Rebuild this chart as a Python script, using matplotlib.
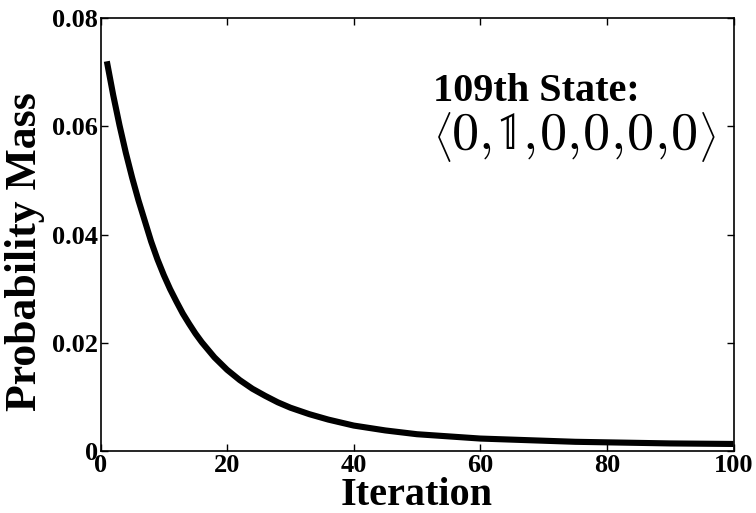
import matplotlib
matplotlib.use("Agg")
import matplotlib.pyplot as plt

# Data
iterations = [1, 2, 3, 4, 5, 6, 7, 8, 9, 10, 11, 12, 13, 14, 15, 16, 18, 20, 22, 24,
              26, 28, 30, 33, 36, 40, 45, 50, 55, 60, 65, 70, 75, 80, 90, 100]
prob_mass = [0.0720, 0.0658, 0.0602, 0.0551, 0.0505, 0.0463, 0.0425, 0.0387, 0.0354,
             0.0325, 0.0299, 0.0276, 0.0254, 0.0235, 0.0217, 0.0201, 0.0173, 0.0150,
             0.0131, 0.0115, 0.0102, 0.0090, 0.0080, 0.0068, 0.0058, 0.0047, 0.0038,
             0.0031, 0.0027, 0.0023, 0.0021, 0.0019, 0.0017, 0.0016, 0.0014, 0.0013]
x_ticks = [0, 20, 40, 60, 80, 100]
y_ticks = [0, 0.02, 0.04, 0.06, 0.08]
y_tick_labels = ["0", "0.02", "0.04", "0.06", "0.08"]
state_title = "109th State:"
state_entries = ["0", "\U0001D7D9", "0", "0", "0", "0"]

plt.rcParams["font.family"] = ["Liberation Serif", "DejaVu Serif"]
plt.rcParams["font.weight"] = "bold"
plt.rcParams["mathtext.fontset"] = "cm"

W, H = 756, 513
fig = plt.figure(figsize=(W / 100, H / 100), dpi=100)
L, R, T, B = 100.5, 733.5, 18, 451
ax = fig.add_axes([L / W, 1 - B / H, (R - L) / W, (B - T) / H])

ax.plot(iterations, prob_mass, color="black", linewidth=4.4, solid_capstyle="butt")

ax.set_xlim(0, 100)
ax.set_ylim(0, 0.08)
ax.set_xticks(x_ticks)
ax.set_xticklabels([str(v) for v in x_ticks])
ax.set_yticks(y_ticks)
ax.set_yticklabels(y_tick_labels)
ax.tick_params(direction="in", length=5, width=1, top=True, right=True,
               labelsize=19, pad=2)
for lab in ax.get_xticklabels() + ax.get_yticklabels():
    lab.set_fontweight("bold")
for s in ax.spines.values():
    s.set_linewidth(1.2)

ax.set_xlabel("Iteration", fontsize=29, fontweight="bold", labelpad=0)
ax.set_ylabel("Probability Mass", fontsize=31.5, fontweight="bold")
ax.yaxis.set_label_coords(-0.088, 0.46)

fig.text(433 / W, 1 - 100.7 / H, state_title, fontsize=29, fontweight="bold",
         ha="left", va="baseline")

# State vector line, composed piece by piece
renderer = fig.canvas.get_renderer()
base_px = 149.0
x_px = 433.0
math_size = 39
bracket_size = 30
comma_gap = 1.6


def put(s, size, dy=0.0, **kw):
    global x_px
    t = fig.text(x_px / W, 1 - (base_px + dy) / H, s, fontsize=size,
                 ha="left", va="baseline", **kw)
    bb = t.get_window_extent(renderer)
    x_px += bb.width
    return t


put(r"$\langle$", bracket_size, dy=3)
for i, entry in enumerate(state_entries):
    if entry.isdigit() and entry.isascii():
        put(entry, math_size, family="cmr10", fontweight="normal")
    else:
        put(entry, math_size * 0.95, family=["STIXGeneral", "DejaVu Sans", "DejaVu Serif"],
            fontweight="normal")
    if i < len(state_entries) - 1:
        put(",", math_size, family="cmr10", fontweight="normal")
        x_px += comma_gap
put(r"$\rangle$", bracket_size, dy=3)

fig.savefig("out.png", dpi=100)
